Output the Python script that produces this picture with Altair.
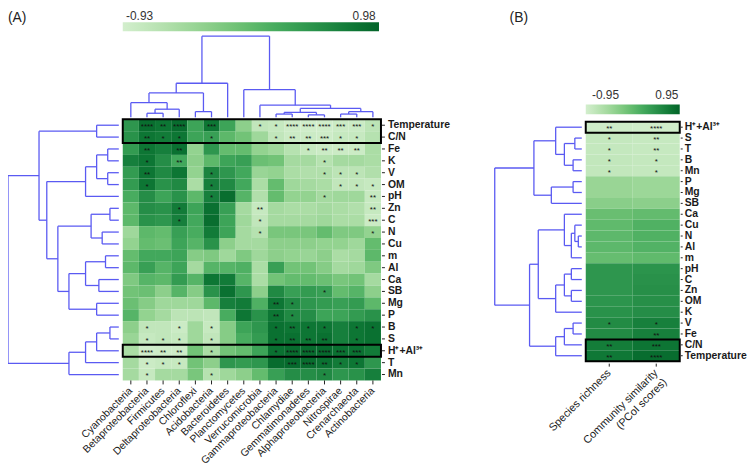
import altair as alt
import pandas as pd

FONT = "Liberation Sans"
LINE = "#5a5af2"

# ---------------- Panel A data ----------------
phyla = ["Cyanobacteria", "Betaproteobacteria", "Firmicutes", "Deltaproteobacteria",
         "Chloroflexi", "Acidobacteria", "Bacteroidetes", "Planctomycetes",
         "Verrucomicrobia", "Gammaproteobacteria", "Chlamydiae", "Gemmatimonadetes",
         "Alphaproteobacteria", "Nitrospirae", "Crenarchaeota", "Actinobacteria"]
soil_A = ["Temperature", "C/N", "Fe", "K", "V", "OM", "pH", "Zn", "C", "N", "Cu", "m",
          "Al", "Ca", "SB", "Mg", "P", "B", "S", "H⁺+Al³⁺", "T", "Mn"]

r_temperature = [0.45, 0.88, 0.8, 0.9, 0.3, 0.8, 0.3, -0.3, -0.75, -0.8, -0.88, -0.9, -0.9, -0.85, -0.85, -0.7]
r_cn = [0.5, 0.8, 0.75, 0.8, 0.3, 0.35, 0.05, -0.1, -0.45, -0.75, -0.85, -0.85, -0.88, -0.8, -0.8, -0.65]
r_fe = [0.4, 0.8, 0.7, 0.85, -0.35, 0.45, 0.0, 0.0, -0.35, -0.45, -0.65, -0.8, -0.85, -0.85, -0.85, -0.55]
r_k = [0.7, 0.8, 0.55, 0.25, -0.3, 0.05, 0.3, 0.35, -0.05, -0.1, -0.5, -0.5, -0.65, -0.5, -0.5, -0.55]
r_v = [0.4, 0.8, 0.6, 0.8, -0.35, 0.65, 0.45, 0.25, -0.4, -0.35, -0.55, -0.6, -0.6, -0.7, -0.7, -0.6]
r_om = [0.4, 0.8, 0.5, 0.6, -0.55, 0.7, 0.6, 0.25, -0.55, 0.0, -0.45, -0.5, -0.55, -0.75, -0.75, -0.8]
r_ph = [0.2, 0.55, 0.3, 0.5, 0.05, 0.7, 0.88, 0.1, -0.6, 0.0, -0.35, -0.35, -0.5, -0.45, -0.45, -0.8]
r_zn = [0.05, 0.55, 0.5, 0.75, 0.3, 0.85, 0.35, -0.5, -0.8, -0.5, -0.55, -0.55, -0.5, -0.55, -0.6, -0.8]
r_c = [0.05, 0.5, 0.45, 0.7, 0.25, 0.88, 0.3, -0.45, -0.75, -0.5, -0.5, -0.5, -0.45, -0.55, -0.55, -0.85]
r_n = [-0.45, 0.05, 0.0, 0.35, 0.2, 0.75, 0.3, -0.5, -0.65, -0.15, -0.15, -0.15, 0.0, -0.2, -0.2, -0.35]
r_cu = [-0.35, 0.0, -0.05, 0.3, 0.1, 0.5, -0.3, -0.5, -0.5, -0.3, -0.3, -0.3, -0.35, -0.35, -0.45, 0.0]
r_m = [0.0, 0.25, 0.25, 0.3, -0.25, -0.2, -0.45, -0.2, -0.45, -0.3, -0.35, -0.4, -0.3, -0.55, -0.5, 0.05]
r_al = [0.05, 0.35, 0.1, 0.3, -0.5, 0.1, 0.1, 0.15, -0.55, 0.35, -0.1, -0.1, -0.25, -0.5, -0.45, -0.2]
r_ca = [-0.2, 0.1, 0.05, 0.4, 0.1, 0.8, 0.75, 0.1, -0.55, -0.1, 0.0, 0.0, -0.05, -0.15, -0.1, -0.5]
r_sb = [-0.1, -0.05, -0.3, 0.1, -0.25, 0.5, 0.85, 0.45, -0.3, 0.6, 0.35, 0.4, 0.35, 0.0, 0.1, -0.3]
r_mg = [-0.05, -0.25, -0.45, -0.45, -0.45, 0.05, 0.7, 0.75, 0.15, 0.8, 0.6, 0.45, 0.4, 0.35, 0.4, 0.05]
r_p = [0.1, -0.35, -0.5, -0.7, -0.7, -0.75, 0.2, 0.8, 0.5, 0.8, 0.6, 0.55, 0.3, 0.3, 0.4, 0.5]
r_b = [-0.3, -0.75, -0.75, -0.85, -0.45, -0.8, -0.25, 0.3, 0.45, 0.85, 0.8, 0.8, 0.8, 0.7, 0.8, 0.85]
r_s = [-0.4, -0.8, -0.75, -0.8, -0.45, -0.75, -0.25, 0.2, 0.4, 0.85, 0.85, 0.8, 0.85, 0.7, 0.8, 0.85]
r_hal = [-0.55, -0.9, -0.88, -0.88, -0.1, -0.55, -0.1, 0.0, 0.3, 0.85, 0.9, 0.9, 0.92, 0.85, 0.85, 0.75]
r_t = [-0.5, -0.85, -0.8, -0.8, -0.1, -0.3, 0.45, 0.4, 0.45, 0.9, 0.92, 0.9, 0.85, 0.75, 0.8, 0.45]
r_mn = [-0.5, -0.8, -0.5, -0.5, -0.15, -0.65, -0.45, -0.3, 0.0, 0.35, 0.55, 0.55, 0.6, 0.45, 0.5, 0.7]
values_A = [r_temperature, r_cn, r_fe, r_k, r_v, r_om, r_ph, r_zn, r_c, r_n, r_cu, r_m,
            r_al, r_ca, r_sb, r_mg, r_p, r_b, r_s, r_hal, r_t, r_mn]

# significance marks: {column index: stars}
s_temperature = {1: "****", 2: "**", 3: "****", 5: "***", 8: "*", 9: "*", 10: "****", 11: "****", 12: "****", 13: "***", 14: "***", 15: "*"}
s_cn = {1: "**", 2: "*", 3: "*", 5: "*", 9: "*", 10: "**", 11: "**", 12: "***", 13: "*", 14: "*"}
s_fe = {1: "**", 3: "**", 11: "*", 12: "**", 13: "**", 14: "**"}
s_k = {1: "*", 3: "**", 12: "*"}
s_v = {1: "**", 5: "*", 12: "*", 13: "*", 14: "*"}
s_om = {1: "*", 5: "*", 13: "*", 14: "*", 15: "*"}
s_ph = {5: "*", 12: "*", 15: "**"}
s_zn = {3: "*", 8: "**", 15: "**"}
s_c = {3: "*", 8: "*", 15: "***"}
s_n = {8: "*", 15: "*"}
s_sb = {12: "*"}
s_mg = {9: "**", 10: "*"}
s_p = {9: "**", 10: "*"}
s_b = {1: "*", 3: "*", 5: "*", 9: "*", 10: "**", 11: "*", 12: "*", 14: "*", 15: "*"}
s_s = {1: "*", 2: "*", 3: "*", 5: "*", 9: "*", 10: "**", 11: "**", 12: "**", 14: "*"}
s_hal = {1: "****", 2: "**", 3: "**", 5: "*", 9: "*", 10: "****", 11: "****", 12: "****", 13: "***", 14: "***"}
s_t = {1: "*", 2: "*", 3: "*", 10: "***", 11: "****", 12: "**", 13: "*", 14: "*"}
s_mn = {1: "*", 5: "*", 12: "*"}
stars_A = [s_temperature, s_cn, s_fe, s_k, s_v, s_om, s_ph, s_zn, s_c, s_n, {}, {},
           {}, {}, s_sb, s_mg, s_p, s_b, s_s, s_hal, s_t, s_mn]

# dendrogram merges: (node a, node b, height 0..1)
link_rows_A = [(0, 1, 0.2), (2, 3, 0.1), (4, 5, 0.1), (23, 24, 0.2), (25, 6, 0.3),
               (7, 8, 0.08), (9, 10, 0.15), (27, 28, 0.25), (11, 12, 0.12), (13, 14, 0.18),
               (30, 31, 0.3), (15, 16, 0.2), (32, 33, 0.45), (29, 34, 0.55), (26, 35, 0.65),
               (22, 36, 0.72), (17, 18, 0.08), (38, 19, 0.2), (39, 20, 0.3), (40, 21, 0.45),
               (37, 41, 1.0)]
link_cols_A = [(1, 2, 0.05), (16, 3, 0.10), (0, 17, 0.18), (4, 5, 0.07), (18, 19, 0.30),
               (20, 6, 0.42), (9, 10, 0.04), (11, 12, 0.03), (22, 23, 0.06), (13, 14, 0.04),
               (25, 15, 0.07), (24, 26, 0.11), (8, 27, 0.15), (7, 28, 0.34), (21, 29, 1.0)]

# ---------------- Panel B data ----------------
soil_B = ["H⁺+Al³⁺", "S", "T", "B", "Mn", "P", "Mg", "SB", "Ca", "Cu", "N", "Al", "m",
          "pH", "C", "Zn", "OM", "K", "V", "Fe", "C/N", "Temperature"]
metrics_B = ["Species richness", "Community similarity\n(PCoI scores)"]
richness = [-0.9, -0.8, -0.8, -0.78, -0.78, -0.42, -0.42, -0.3, -0.06, 0.0, 0.02, 0.02, -0.04,
            0.42, 0.42, 0.42, 0.44, 0.47, 0.55, 0.55, 0.7, 0.75]
similarity = [-0.92, -0.82, -0.82, -0.8, -0.8, -0.45, -0.45, -0.32, -0.02, 0.12, 0.12, 0.1, 0.0,
              0.45, 0.48, 0.5, 0.5, 0.52, 0.66, 0.66, 0.78, 0.86]
stars_richness = {0: "**", 1: "*", 2: "*", 3: "*", 4: "*", 18: "*", 20: "**", 21: "**"}
stars_similarity = {0: "****", 1: "**", 2: "**", 3: "*", 4: "*", 18: "*", 19: "**", 20: "***", 21: "****"}
link_rows_B = [(1, 2, 0.08), (3, 4, 0.1), (22, 23, 0.2), (0, 24, 0.3), (5, 6, 0.1),
               (26, 7, 0.35), (25, 27, 0.55), (10, 11, 0.04), (9, 29, 0.08), (30, 12, 0.12),
               (8, 31, 0.2), (13, 14, 0.12), (15, 16, 0.12), (33, 34, 0.2), (35, 17, 0.3),
               (32, 36, 0.5), (18, 19, 0.1), (38, 20, 0.2), (39, 21, 0.3), (37, 40, 0.6),
               (28, 41, 1.0)]

range_A = [-0.93, 0.98]
range_B = [-0.95, 0.95]


def dendro(link, n):
    pos = {i: i + 0.5 for i in range(n)}
    hgt = {i: 0.0 for i in range(n)}
    segs = []
    for k, (a, b, h) in enumerate(link):
        segs.append(dict(p1=pos[a], h1=hgt[a], p2=pos[a], h2=h))
        segs.append(dict(p1=pos[b], h1=hgt[b], p2=pos[b], h2=h))
        segs.append(dict(p1=pos[a], h1=h, p2=pos[b], h2=h))
        pos[n + k] = (pos[a] + pos[b]) / 2
        hgt[n + k] = h
    return pd.DataFrame(segs)


def S(domain, rng):
    return alt.Scale(domain=domain, range=rng, nice=False, zero=False)


# ---------------- tables ----------------
recs = []
for r, name in enumerate(soil_A):
    for c, ph in enumerate(phyla):
        recs.append(dict(x0=c, x1=c + 1, xc=c + 0.5, y0=r, y1=r + 1, yc=r + 0.5,
                         value=values_A[r][c], stars=stars_A[r].get(c, "")))
dfA = pd.DataFrame(recs)

recsB = []
for r, name in enumerate(soil_B):
    for c, (vals, st) in enumerate([(richness, stars_richness), (similarity, stars_similarity)]):
        recsB.append(dict(x0=c, x1=c + 1, xc=c + 0.5, y0=r, y1=r + 1, yc=r + 0.5,
                          value=vals[r], stars=st.get(r, "")))
dfB = pd.DataFrame(recsB)

# pixel layout (chart coordinates)
xA_rng, yA_rng = [116, 377], [110, 374]
xB_rng, yB_rng = [584, 679], [112.5, 354.5]

layers = []

# ---- Panel A heatmap ----
layers.append(alt.Chart(dfA).mark_rect(stroke=None).encode(
    x=alt.X("x0:Q", scale=S([0, 16], xA_rng), axis=None), x2="x1:Q",
    y=alt.Y("y0:Q", scale=S([0, 22], yA_rng), axis=None), y2="y1:Q",
    color=alt.Color("value:Q", scale=alt.Scale(scheme="greens", domain=range_A),
                    legend=alt.Legend(orient="none", legendX=116, legendY=12, direction="horizontal",
                                      gradientLength=259, gradientThickness=9, title=None,
                                      labelOpacity=0, padding=0, gradientStrokeWidth=0))))
layers.append(alt.Chart(dfA[dfA.stars != ""]).mark_text(fontSize=8, font=FONT, color="#111", dy=2).encode(
    x=alt.X("xc:Q", scale=S([0, 16], xA_rng), axis=None),
    y=alt.Y("yc:Q", scale=S([0, 22], yA_rng), axis=None), text="stars:N"))
boxA = pd.DataFrame({"x0": [0, 0], "x1": [16, 16], "y0": [0, 19], "y1": [2, 20]})
layers.append(alt.Chart(boxA).mark_rect(filled=False, stroke="black", strokeWidth=2).encode(
    x=alt.X("x0:Q", scale=S([0, 16], xA_rng), axis=None), x2="x1:Q",
    y=alt.Y("y0:Q", scale=S([0, 22], yA_rng), axis=None), y2="y1:Q"))

rowsA = pd.DataFrame({"name": soil_A, "pos": [i + 0.5 for i in range(len(soil_A))]})
colsA = pd.DataFrame({"name": phyla, "pos": [i + 0.5 for i in range(len(phyla))]})
layers.append(alt.Chart(rowsA).mark_rule(color="#222", strokeWidth=1).encode(
    x=alt.value(378), x2=alt.value(381), y=alt.Y("pos:Q", scale=S([0, 22], yA_rng), axis=None)))
layers.append(alt.Chart(rowsA).mark_text(align="left", baseline="middle", fontSize=10.5, fontWeight="bold",
                                         font=FONT, color="#1a1a1a").encode(
    x=alt.value(384), y=alt.Y("pos:Q", scale=S([0, 22], yA_rng), axis=None), text="name:N"))
layers.append(alt.Chart(colsA).mark_rule(color="#222", strokeWidth=1).encode(
    y=alt.value(374), y2=alt.value(378), x=alt.X("pos:Q", scale=S([0, 16], xA_rng), axis=None)))
layers.append(alt.Chart(colsA).mark_text(align="right", baseline="middle", angle=315, fontSize=10.5,
                                         font=FONT, color="#1a1a1a").encode(
    x=alt.X("pos:Q", scale=S([0, 16], xA_rng), axis=None), y=alt.value(383), text="name:N"))

# dendrograms A
dRA = dendro(link_rows_A, len(soil_A))
layers.append(alt.Chart(dRA).mark_rule(color=LINE, strokeWidth=1.3).encode(
    x=alt.X("h1:Q", scale=S([0, 1], [112, 0]), axis=None), x2="h2:Q",
    y=alt.Y("p1:Q", scale=S([0, 22], yA_rng), axis=None), y2="p2:Q"))
dCA = dendro(link_cols_A, len(phyla))
layers.append(alt.Chart(dCA).mark_rule(color=LINE, strokeWidth=1.3).encode(
    x=alt.X("p1:Q", scale=S([0, 16], xA_rng), axis=None), x2="p2:Q",
    y=alt.Y("h1:Q", scale=S([0, 1], [108, 26]), axis=None), y2="h2:Q"))

# ---- Panel B heatmap ----
layers.append(alt.Chart(dfB).mark_rect(stroke=None).encode(
    x=alt.X("x0:Q", scale=S([0, 2], xB_rng), axis=None), x2="x1:Q",
    y=alt.Y("y0:Q", scale=S([0, 22], yB_rng), axis=None), y2="y1:Q",
    color=alt.Color("value:Q", scale=alt.Scale(scheme="greens", domain=range_B),
                    legend=alt.Legend(orient="none", legendX=584, legendY=95, direction="horizontal",
                                      gradientLength=95, gradientThickness=10, title=None,
                                      labelOpacity=0, padding=0, gradientStrokeWidth=0))))
layers.append(alt.Chart(dfB[dfB.stars != ""]).mark_text(fontSize=8, font=FONT, color="#111", dy=2).encode(
    x=alt.X("xc:Q", scale=S([0, 2], xB_rng), axis=None),
    y=alt.Y("yc:Q", scale=S([0, 22], yB_rng), axis=None), text="stars:N"))
boxB = pd.DataFrame({"x0": [0, 0], "x1": [2, 2], "y0": [0, 20], "y1": [1, 22]})
layers.append(alt.Chart(boxB).mark_rect(filled=False, stroke="black", strokeWidth=2).encode(
    x=alt.X("x0:Q", scale=S([0, 2], xB_rng), axis=None), x2="x1:Q",
    y=alt.Y("y0:Q", scale=S([0, 22], yB_rng), axis=None), y2="y1:Q"))
rowsB = pd.DataFrame({"name": soil_B, "pos": [i + 0.5 for i in range(len(soil_B))]})
colsB = pd.DataFrame({"name": metrics_B, "pos": [0.5, 1.5]})
layers.append(alt.Chart(rowsB).mark_rule(color="#222", strokeWidth=1).encode(
    x=alt.value(680), x2=alt.value(682), y=alt.Y("pos:Q", scale=S([0, 22], yB_rng), axis=None)))
layers.append(alt.Chart(rowsB).mark_text(align="left", baseline="middle", fontSize=10.5, fontWeight="bold",
                                         font=FONT, color="#1a1a1a").encode(
    x=alt.value(684), y=alt.Y("pos:Q", scale=S([0, 22], yB_rng), axis=None), text="name:N"))
layers.append(alt.Chart(colsB).mark_rule(color="#222", strokeWidth=1).encode(
    y=alt.value(357), y2=alt.value(360), x=alt.X("pos:Q", scale=S([0, 2], xB_rng), axis=None)))
layers.append(alt.Chart(colsB).mark_text(align="right", baseline="middle", angle=315, fontSize=11,
                                         font=FONT, color="#1a1a1a", lineBreak="\n").encode(
    x=alt.X("pos:Q", scale=S([0, 2], xB_rng), axis=None), y=alt.value(365), text="name:N"))
dRB = dendro(link_rows_B, len(soil_B))
layers.append(alt.Chart(dRB).mark_rule(color=LINE, strokeWidth=1.3).encode(
    x=alt.X("h1:Q", scale=S([0, 1], [580, 492]), axis=None), x2="h2:Q",
    y=alt.Y("p1:Q", scale=S([0, 22], yB_rng), axis=None), y2="p2:Q"))

# ---- colorbar labels and panel letters ----
cbar = pd.DataFrame({"label": [f"{range_A[0]:.2f}", f"{range_A[1]:.2f}"], "val": range_A})
layers.append(alt.Chart(cbar).mark_text(fontSize=12, font=FONT, color="#333", baseline="alphabetic").encode(
    x=alt.X("val:Q", scale=S(range_A, [133, 360]), axis=None), y=alt.value(10), text="label:N"))
cbarB = pd.DataFrame({"label": [f"{range_B[0]:.2f}", f"{range_B[1]:.2f}"], "val": range_B})
layers.append(alt.Chart(cbarB).mark_text(fontSize=12, font=FONT, color="#333", baseline="alphabetic").encode(
    x=alt.X("val:Q", scale=S(range_B, [604, 666]), axis=None), y=alt.value(89), text="label:N"))
panels = pd.DataFrame({"label": ["(A)", "(B)"], "px": [0, 507]})
layers.append(alt.Chart(panels).mark_text(fontSize=14, font=FONT, color="#222", align="left",
                                          baseline="middle").encode(
    x=alt.X("px:Q", scale=S([0, 748], [0, 748]), axis=None), y=alt.value(8), text="label:N"))

chart = alt.layer(*layers).resolve_scale(
    x="independent", y="independent", color="independent"
).properties(
    width=748, height=460, autosize=alt.AutoSizeParams(type="none"), padding=0
).configure_view(stroke=None)

chart.save("out.html", embed_options={"renderer": "svg", "actions": False})
